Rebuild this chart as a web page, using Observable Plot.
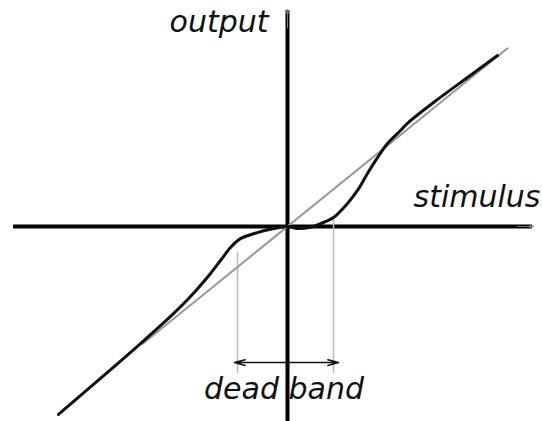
<!DOCTYPE html>
<html>
<head>
<meta charset="utf-8">
<script src="https://cdn.jsdelivr.net/npm/d3@7"></script>
<script src="https://cdn.jsdelivr.net/npm/@observablehq/plot@0.6"></script>
<style>
  html, body { margin: 0; padding: 0; background: #fff; }
  svg { display: block; }
</style>
</head>
<body>
<div id="chart"></div>
<script>
// Response curve with dead band (stimulus u, output v)
const curveU = [-4.58, -3.74, -2.94, -2.28, -1.94, -1.54, -1.34, -1.14, -0.94, -0.60, -0.34, 0.00, 0.20, 0.46, 0.66, 0.92, 1.20, 1.40, 1.60, 1.80, 2.00, 2.26, 2.42, 2.92, 3.60, 4.20];
const curveV = [-4.64, -3.75, -2.89, -2.15, -1.73, -1.16, -0.84, -0.52, -0.30, -0.15, -0.07, 0.00, -0.05, -0.02, 0.07, 0.22, 0.57, 0.89, 1.31, 1.70, 2.05, 2.37, 2.57, 3.06, 3.68, 4.22];
// Ideal linear response (gray)
const idealU = [-2.9, 4.4];
// Dead band edges
const bandEdges = [-1.0, 0.92];
const bandTops = [-0.64, 0.22];
const bandBottom = -3.63;
const arrowLevel = -3.36;
const arrowEnds = [-1.06, 1.02];
// Labels
const labels = ["output", "stimulus", "dead band"];

const curve = curveU.map((u, i) => ({u, v: curveV[i]}));
const ideal = idealU.map(u => ({u, v: u}));
const edges = bandEdges.map((u, i) => ({u, v1: bandTops[i], v2: bandBottom}));

const font = {fontFamily: "DejaVu Sans", fontStyle: "italic", fontSize: 30, fill: "#111", lineAnchor: "bottom"};

const chart = Plot.plot({
  width: 542,
  height: 421,
  margin: 0,
  x: {domain: [-5.74, 5.1], axis: null},
  y: {domain: [-4.815, 5.58], axis: null},
  marks: [
    // axes
    Plot.ruleY([0], {x1: -5.48, x2: 4.9, stroke: "#000", strokeWidth: 4}),
    Plot.ruleX([0], {y1: -4.815, y2: 5.33, stroke: "#000", strokeWidth: 4}),
    Plot.arrow([{x1: 4.6, x2: 4.92, y: 0}], {x1: "x1", x2: "x2", y1: "y", y2: "y", stroke: "#777", strokeWidth: 1, headLength: 8, headAngle: 40}),
    Plot.arrow([{x: 0, y1: 4.9, y2: 5.36}], {x1: "x", x2: "x", y1: "y1", y2: "y2", stroke: "#777", strokeWidth: 1, headLength: 8, headAngle: 40}),
    // dead band edges
    Plot.ruleX(edges, {x: "u", y1: "v1", y2: "v2", stroke: "#bbb", strokeWidth: 1.5}),
    // dead band double arrow
    Plot.arrow(arrowEnds.map(e => ({x1: 0, x2: e, y: arrowLevel})), {x1: "x1", x2: "x2", y1: "y", y2: "y", stroke: "#111", strokeWidth: 1.5, headLength: 11, headAngle: 30}),
    // ideal line
    Plot.line(ideal, {x: "u", y: "v", stroke: "#999", strokeWidth: 2}),
    // response curve
    Plot.line(curve, {x: "u", y: "v", stroke: "#111", strokeWidth: 3, curve: "catmull-rom"}),
    // labels
    Plot.text([labels[0]], {x: -0.38, y: 4.79, text: d => d, textAnchor: "end", ...font}),
    Plot.text([labels[1]], {x: 5.06, y: 0.47, text: d => d, textAnchor: "end", ...font}),
    Plot.text([labels[2]], {x: -0.07, y: -4.25, text: d => d, textAnchor: "middle", ...font})
  ]
});
document.getElementById("chart").appendChild(chart);
</script>
</body>
</html>
